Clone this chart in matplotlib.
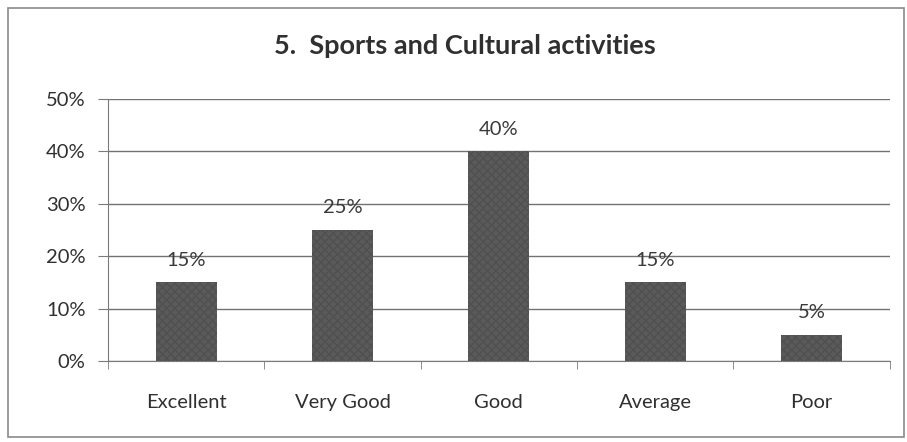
import matplotlib.pyplot as plt
from matplotlib.patches import Rectangle

# survey result
categories = ['Excellent', 'Very Good', 'Good', 'Average', 'Poor']
shares = [15, 25, 40, 15, 5]
yticks = [0, 10, 20, 30, 40, 50]

plt.rcParams['font.family'] = ['Lato', 'DejaVu Sans']
plt.rcParams['hatch.color'] = '#6a6a6a'

fig = plt.figure(figsize=(9.07, 4.42), dpi=100)
ax = fig.add_axes([0.119, 0.183, 0.862, 0.593])

x = range(len(categories))
ax.bar(x, shares, width=0.39, color='#5a5a5a', edgecolor='#505050',
       hatch='xxxx', linewidth=0, zorder=3)

for xi, v in zip(x, shares):
    ax.text(xi, v + 2.6, f'{v}%', ha='center', va='bottom', fontsize=14.5, color='#3a3a3a')

ax.set_xlim(-0.5, len(categories) - 0.5)
ax.set_ylim(0, 50)
ax.set_yticks(yticks)
ax.set_yticklabels([f'{t}%' for t in yticks], fontsize=14.5, color='#303030')
ax.yaxis.grid(True, color='#727272', linewidth=1, zorder=0)

ax.set_xticks(list(x))
ax.set_xticklabels(categories, fontsize=14.5, color='#303030')
ax.tick_params(axis='x', length=0, pad=24)
ax.set_xticks([i - 0.5 for i in range(len(categories) + 1)], minor=True)
ax.tick_params(axis='x', which='minor', length=6, color='#7a7a7a', direction='out')
ax.tick_params(axis='y', length=7, color='#7a7a7a', direction='out', pad=9)

for s in ['top', 'right']:
    ax.spines[s].set_visible(False)
ax.spines['left'].set_color('#7a7a7a')
ax.spines['bottom'].set_color('#7a7a7a')

fig.text(0.513, 0.895, '5.  Sports and Cultural activities', ha='center', va='center',
         fontsize=19.5, fontweight='bold', color='#303030')

fig.patches.append(Rectangle((0.009, 0.012), 0.988, 0.97, transform=fig.transFigure,
                             fill=False, edgecolor='#8a8a8a', linewidth=1.2))

fig.savefig('out.png', dpi=100)
